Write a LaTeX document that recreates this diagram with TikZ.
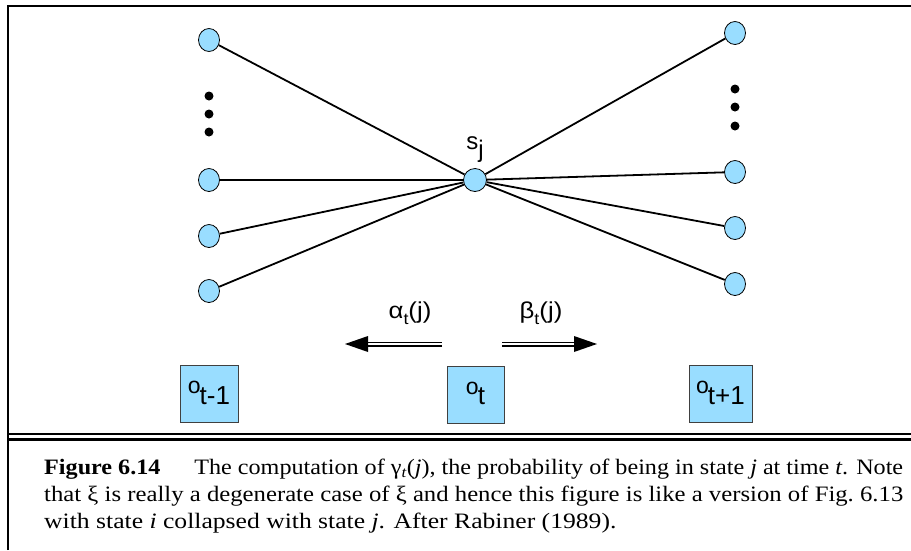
\documentclass[tikz,border=0pt]{standalone}
\usepackage{fontspec}
\usepackage{graphicx}
\setmainfont{Liberation Serif}
\setsansfont{Liberation Sans}
\usetikzlibrary{shapes.geometric}
\definecolor{nodeblue}{RGB}{153,221,255}
\begin{document}
\begin{tikzpicture}[x=1pt,y=-1pt,
  state/.style={ellipse,draw=black,fill=nodeblue,line width=0.8pt,minimum width=21pt,minimum height=23pt,inner sep=0pt},
  center/.style={circle,draw=black,fill=nodeblue,line width=0.8pt,minimum size=23pt,inner sep=0pt},
  obsbox/.style={draw=black!75,fill=nodeblue,line width=0.8pt,inner sep=0pt},
  edge/.style={line width=1.8pt},
  dot/.style={circle,fill=black,inner sep=0pt,minimum size=9pt},
  lbl/.style={font=\sffamily,inner sep=0pt},
  capline/.style={anchor=base west,inner sep=0pt,font=\fontsize{22}{27}\selectfont},
  dbl/.style={draw=black,double=white,double distance=2.4pt,line width=1.3pt}]
\useasboundingbox (0,0) rectangle (911,550);
% frame
\draw[line width=2.2pt] (8,550) -- (8,6) -- (911,6);
\draw[line width=1.5pt] (8,434) -- (911,434);
\draw[line width=3pt] (8,439) -- (911,439);
% center
\node[center] (c) at (475,180) {};
\node[lbl,font=\sffamily\fontsize{24}{24}\selectfont] (sj) at (475,150) {s\raisebox{-8pt}{j}};
% left states
\node[state] (l1) at (209,40) {};
\node[state] (l2) at (209,180) {};
\node[state] (l3) at (209,236) {};
\node[state] (l4) at (209,291) {};
\node[dot] (ld1) at (209,96) {};
\node[dot] (ld2) at (209,114) {};
\node[dot] (ld3) at (209,132) {};
% right states
\node[state] (r1) at (735,33) {};
\node[state] (r2) at (735,172) {};
\node[state] (r3) at (735,228) {};
\node[state] (r4) at (735,284) {};
\node[dot] (rd1) at (735,89) {};
\node[dot] (rd2) at (735,107) {};
\node[dot] (rd3) at (735,126) {};
% edges
\foreach \n in {l1,l2,l3,l4,r1,r2,r3,r4} \draw[edge] (\n) -- (c);
% arrows
\coordinate (la1) at (442,344);
\coordinate (la2) at (366,344);
\coordinate (ra1) at (502,344);
\coordinate (ra2) at (577,344);
\draw[dbl] (la1) -- (la2);
\draw[dbl] (ra1) -- (ra2);
\fill (345,344) -- (368,336) -- (368,352) -- cycle;
\fill (597,344) -- (574,336) -- (574,352) -- cycle;
\node[lbl] (alpha) at (410,313) {\scalebox{1.12}[1]{\fontsize{23}{23}\selectfont α\raisebox{-6pt}{\fontsize{16}{16}\selectfont t}(j)}};
\node[lbl] (beta) at (541,313) {\scalebox{1.12}[1]{\fontsize{23}{23}\selectfont β\raisebox{-6pt}{\fontsize{16}{16}\selectfont t}(j)}};
% observation boxes
\node[obsbox,minimum width=58pt,minimum height=57pt] (o1) at (209,394) {};
\node[obsbox,minimum width=57pt,minimum height=57pt] (o2) at (475.5,394.5) {};
\node[obsbox,minimum width=63pt,minimum height=57pt] (o3) at (720.5,394) {};
\node[lbl,font=\sffamily\fontsize{23}{23}\selectfont] at ([yshift=1pt]o1.center) {o\kern-1pt\raisebox{-11pt}{\fontsize{26}{26}\selectfont t-1}};
\node[lbl,font=\sffamily\fontsize{23}{23}\selectfont] at ([yshift=1pt]o2.center) {o\kern-1pt\raisebox{-10pt}{\fontsize{26}{26}\selectfont t}};
\node[lbl,font=\sffamily\fontsize{23}{23}\selectfont] at ([yshift=1pt]o3.center) {o\kern-1pt\raisebox{-11pt}{\fontsize{26}{26}\selectfont t+1}};
% caption
\node[capline] (cap1) at (44,474)
{\resizebox{859pt}{\height}{\textbf{Figure 6.14}\hspace{1.4em}The computation of γ\textsubscript{\itshape t}(\textit{j}), the probability of being in state \textit{j} at time \textit{t}. Note}};
\node[capline] (cap2) at (44,501)
{\resizebox{859pt}{\height}{that ξ is really a degenerate case of ξ and hence this figure is like a version of Fig.~6.13}};
\node[capline] (cap3) at (44,528)
{\scalebox{1.165}[1]{with state \textit{i} collapsed with state \textit{j}. After Rabiner (1989).}};
\end{tikzpicture}
\end{document}
